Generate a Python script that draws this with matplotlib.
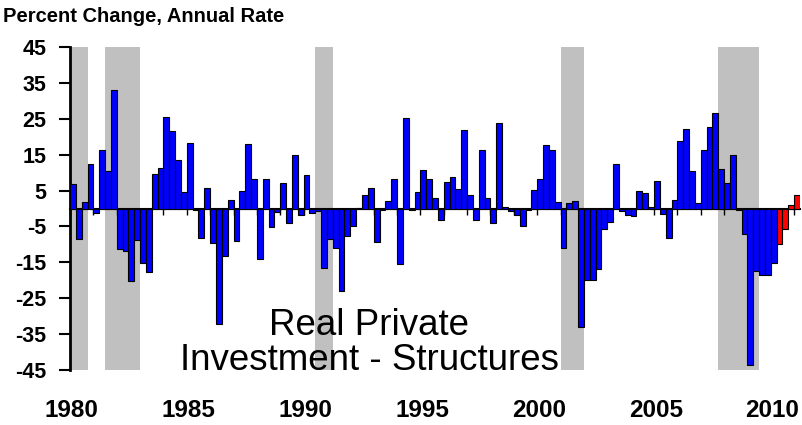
import numpy as np
import matplotlib
matplotlib.use("Agg")
import matplotlib.pyplot as plt
import matplotlib.transforms as mtransforms

plt.rcParams['font.family'] = ['Liberation Sans', 'DejaVu Sans']

# quarterly % change, annual rate, 1980Q1 .. 2011Q1
values = [
    6.7, -8.4, 1.8, 12.3, -1.2, 16.2, 10.4, 33.0,            # 1980-1981
    -11.4, -11.9, -20.2, -8.7, -15.1, -17.7, 9.5, 11.3,     # 1982-1983
    25.5, 21.5, 13.4, 4.5, 18.3, -0.3, -8.2, 5.8,           # 1984-1985
    -9.6, -32.3, -13.3, 2.5, -9.1, 4.8, 18.1, 8.1,          # 1986-1987
    -14.2, 8.3, -5.1, -1.0, 7.1, -4.0, 15.0, -1.8,          # 1988-1989
    9.2, -1.2, -0.7, -16.5, -8.5, -11.0, -23.0, -7.7,       # 1990-1991
    -4.9, 0.2, 3.9, 5.8, -9.3, -0.3, 2.2, 8.1,              # 1992-1993
    -15.6, 25.3, -0.3, 4.6, 10.6, 8.3, 3.0, -3.1,           # 1994-1995
    7.3, 8.8, 5.3, 22.0, 3.9, -3.3, 16.4, 3.0,              # 1996-1997
    -4.0, 23.7, 0.3, -0.7, -1.7, -4.9, -0.3, 5.1,           # 1998-1999
    8.1, 17.8, 16.4, 1.8, -11.0, 1.4, 2.2, -33.0,           # 2000-2001
    -20.0, -20.0, -16.8, -5.6, -3.8, 12.5, -0.7, -1.7,      # 2002-2003
    -2.1, 5.0, 4.4, 0.3, 7.8, -1.4, -8.3, 2.5,              # 2004-2005
    18.8, 22.2, 10.4, 1.4, 16.2, 22.7, 26.5, 11.1,          # 2006-2007
    7.1, 15.0, -0.3, -7.1, -43.5, -17.3, -18.6, -18.4,      # 2008-2009
    -15.1, -10.0, -5.6, 1.1, 3.9,                           # 2010-2011Q1
]
first_red = 121  # 2010Q2 onward shown in red

# recessions (start, end) in years
recessions = [(1980.0, 1980.75), (1981.5, 1983.0), (1990.5, 1991.25),
              (2001.0, 2002.0), (2007.75, 2009.5)]
year_labels = [1980, 1985, 1990, 1995, 2000, 2005, 2010]

n = len(values)
x = np.arange(n) + 0.5
colors = ['#0000FF' if i < first_red else '#FF0000' for i in range(n)]

fig = plt.figure(figsize=(8.02, 4.25), dpi=100)
ax = fig.add_axes([70 / 802, 55 / 425, 730 / 802, 323 / 425])

for s, e in recessions:
    ax.axvspan((s - 1980) * 4, (e - 1980) * 4, color='#C0C0C0', lw=0, zorder=1)

ax.bar(x, values, width=1.0, color=colors, edgecolor='black', linewidth=0.8, zorder=3)

ax.set_xlim(0, 125)
ax.set_ylim(-45, 45)

for side in ['top', 'right']:
    ax.spines[side].set_visible(False)
ax.spines['bottom'].set_position(('data', 0))
ax.spines['bottom'].set_linewidth(1.5)
ax.spines['bottom'].set_zorder(2)
ax.spines['left'].set_linewidth(2)

ax.set_yticks(np.arange(-45, 46, 10))
ax.set_yticklabels([str(v) for v in np.arange(-45, 46, 10)], fontsize=15.5, fontweight='bold')
ax.tick_params(axis='y', length=8, width=1.5, pad=9)

ax.set_xticks(np.arange(0, n, 4))
ax.tick_params(axis='x', length=4, width=1, labelbottom=False)

trans = mtransforms.blended_transform_factory(ax.transData, ax.transAxes)
for yr in year_labels:
    ax.text((yr - 1980) * 4 + 0.3, -0.125, str(yr), transform=trans, ha='center', va='center',
            fontsize=17.5, fontweight='bold', clip_on=False)

ax.text(0.41, 0.085, 'Real Private\nInvestment - Structures', transform=ax.transAxes,
        ha='center', va='center', fontsize=26.5, linespacing=1.0, zorder=4)

fig.text(0.004, 0.962, 'Percent Change, Annual Rate', fontsize=14.5, fontweight='bold',
         ha='left', va='center')

fig.savefig('out.png', dpi=100)
